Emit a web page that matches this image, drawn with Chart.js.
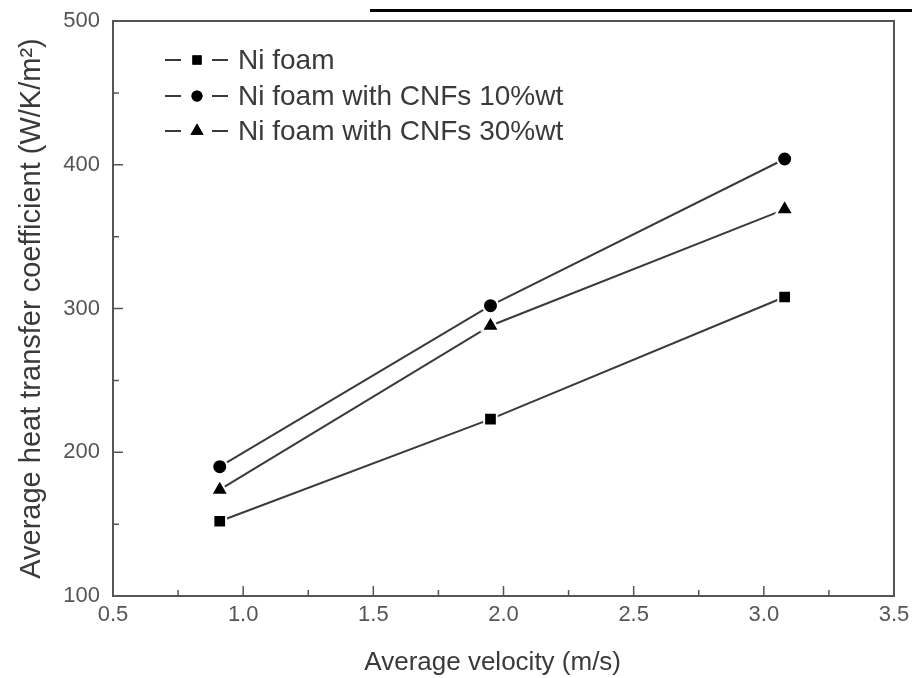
<!DOCTYPE html>
<html>
<head>
<meta charset="utf-8">
<script src="https://cdn.jsdelivr.net/npm/chart.js@4.4.0/dist/chart.umd.min.js"></script>
<style>
  html, body { margin: 0; padding: 0; background: #fff; }
  #chart { display: block; }
</style>
</head>
<body>
<canvas id="chart" width="912" height="678"></canvas>
<script>
// values
const velocity = [0.91, 1.95, 3.08];
const niFoam = [152, 223, 308];
const cnf10 = [190, 302, 404];
const cnf30 = [174, 288, 369];
const seriesLabels = ["Ni foam", "Ni foam with CNFs 10%wt", "Ni foam with CNFs 30%wt"];
const seriesMarkers = ["rect", "circle", "triangle"];
// trailing spaces nudge the centred title a little to the left, as in the source
const xTitle = "Average velocity (m/s)\u00A0\u00A0\u00A0";
const yTitle = "Average heat transfer coefficient (W/K/m\u00B2)";

const FONT = "'Liberation Sans', Arial, sans-serif";
const INK = "#3a3a3a";
const markerRadius = { rect: 9, circle: 7.5, triangle: 10 };

function toPoints(ys) {
  return velocity.map((v, i) => ({ x: v, y: ys[i] }));
}

function makeDataset(label, ys, marker) {
  return {
    label: label,
    data: toPoints(ys),
    showLine: true,
    borderColor: INK,
    borderWidth: 2,
    pointStyle: marker,
    pointRadius: markerRadius[marker],
    pointBackgroundColor: "#000",
    pointBorderColor: "#fff",
    pointBorderWidth: 2,
  };
}

// frame, inward ticks, legend
const framePlugin = {
  id: "frame",
  afterDraw(chart) {
    const { ctx, chartArea: a, scales } = chart;
    ctx.save();

    // stray rule above the plot
    ctx.strokeStyle = "#000";
    ctx.lineWidth = 3;
    ctx.beginPath();
    ctx.moveTo(370, 10.5);
    ctx.lineTo(912, 10.5);
    ctx.stroke();

    ctx.strokeStyle = "#555";
    ctx.lineWidth = 2;
    ctx.strokeRect(a.left, a.top, a.right - a.left, a.bottom - a.top);

    ctx.lineWidth = 1.5;
    ctx.beginPath();
    for (let v = 0.75; v < 3.5; v += 0.25) {
      const px = scales.x.getPixelForValue(v);
      const len = Math.abs(v * 2 - Math.round(v * 2)) < 1e-6 ? 10 : 6;
      ctx.moveTo(px, a.bottom);
      ctx.lineTo(px, a.bottom - len);
    }
    for (let v = 150; v < 500; v += 50) {
      const py = scales.y.getPixelForValue(v);
      const len = v % 100 === 0 ? 10 : 6;
      ctx.moveTo(a.left, py);
      ctx.lineTo(a.left + len, py);
    }
    ctx.stroke();

    // legend: dash - marker - dash - text
    const rows = [60, 96, 131];
    const legendRadius = { rect: 6.5, circle: 5.5, triangle: 7.5 };
    ctx.font = "28px " + FONT;
    ctx.textBaseline = "middle";
    chart.data.datasets.forEach((ds, i) => {
      const y = rows[i];
      ctx.strokeStyle = INK;
      ctx.lineWidth = 2;
      ctx.beginPath();
      ctx.moveTo(165, y);
      ctx.lineTo(181, y);
      ctx.moveTo(212, y);
      ctx.lineTo(228, y);
      ctx.stroke();
      ctx.fillStyle = "#000";
      Chart.helpers.drawPoint(ctx, { pointStyle: ds.pointStyle, radius: legendRadius[ds.pointStyle], borderWidth: 0 }, 197, y);
      ctx.fill();
      ctx.fillStyle = INK;
      ctx.fillText(ds.label, 238, y + 1);
    });
    ctx.restore();
  },
};

new Chart(document.getElementById("chart"), {
  type: "scatter",
  data: {
    datasets: [
      makeDataset(seriesLabels[0], niFoam, seriesMarkers[0]),
      makeDataset(seriesLabels[1], cnf10, seriesMarkers[1]),
      makeDataset(seriesLabels[2], cnf30, seriesMarkers[2]),
    ],
  },
  options: {
    responsive: false,
    animation: false,
    layout: { padding: { top: 21, right: 18, left: 0, bottom: 0 } },
    plugins: {
      legend: { display: false },
      tooltip: { enabled: false },
    },
    scales: {
      x: {
        type: "linear",
        min: 0.5,
        max: 3.5,
        grid: { display: false, drawTicks: false },
        border: { display: false },
        ticks: {
          stepSize: 0.5,
          padding: 6,
          color: "#555",
          font: { family: FONT, size: 22 },
          callback: (v) => v.toFixed(1),
        },
        title: {
          display: true,
          text: xTitle,
          color: INK,
          font: { family: FONT, size: 26 },
          padding: { top: 0, bottom: 0 },
        },
        afterFit: (scale) => {
          scale.height = 82;
          scale.paddingLeft = 0;
          scale.paddingRight = 0;
        },
      },
      y: {
        min: 100,
        max: 500,
        grid: { display: false, drawTicks: false },
        border: { display: false },
        ticks: {
          stepSize: 100,
          padding: 13,
          color: "#555",
          font: { family: FONT, size: 22 },
        },
        title: {
          display: true,
          text: yTitle,
          color: INK,
          font: { family: FONT, size: 29 },
          padding: { top: 15, bottom: 0 },
        },
        afterFit: (scale) => {
          scale.width = 113;
          scale.paddingTop = 0;
          scale.paddingBottom = 0;
        },
      },
    },
  },
  plugins: [framePlugin],
});
</script>
</body>
</html>
